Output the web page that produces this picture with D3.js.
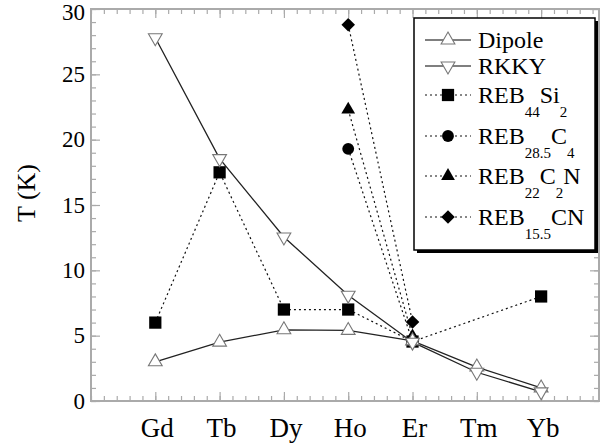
<!DOCTYPE html>
<html>
<head>
<meta charset="utf-8">
<script src="https://cdn.jsdelivr.net/npm/d3@7"></script>
<style>
  body { margin: 0; background: #fff; }
  svg text { font-family: "Liberation Serif", "DejaVu Serif", serif; fill: #000; }
</style>
</head>
<body>
<svg id="chart" width="600" height="448"></svg>
<script>
// categories on the x axis (rare earths)
var elements = ["Gd", "Tb", "Dy", "Ho", "Er", "Tm", "Yb"]
var yTicks = [0, 5, 10, 15, 20, 25, 30]

// ordering temperatures (null = no point)
var dipole = [3.0, 4.5, 5.45, 5.4, 4.6, 2.6, 1.0]
var rkky = [27.8, 18.55, 12.55, 8.1, 4.5, 2.2, 0.7]
var reb44si2 = [6.0, 17.5, 7.0, 7.0, 4.55, null, 8.0]
var reb285c4 = [null, null, null, 19.3, 4.55, null, null]
var reb22c2n = [null, null, null, 22.3, 4.95, null, null]
var reb155cn = [null, null, null, 28.8, 6.05, null, null]

var series = [
  { name: [["REB", 0], ["44", 1], ["Si", 0], ["2", 1]], values: reb44si2, sym: "square", solid: false },
  { name: [["REB", 0], ["28.5", 1], ["C", 0], ["4", 1]], values: reb285c4, sym: "circle", solid: false },
  { name: [["REB", 0], ["22", 1], ["C", 0], ["2", 1], ["N", 0]], values: reb22c2n, sym: "triangle", solid: false },
  { name: [["REB", 0], ["15.5", 1], ["CN", 0]], values: reb155cn, sym: "diamond", solid: false },
  { name: [["Dipole", 0]], values: dipole, sym: "up", solid: true },
  { name: [["RKKY", 0]], values: rkky, sym: "down", solid: true }
]

var svg = d3.select("#chart")
var mLeft = 91, mRight = 599, mTop = 9, mBottom = 401

var x = d3.scaleLinear().domain([0, 7.9]).range([mLeft, mRight])
var y = d3.scaleLinear().domain([0, 30]).range([mBottom, mTop])

function symPath(s) {
  if (s == "square") return d3.symbol(d3.symbolSquare, 150)()
  if (s == "circle") return d3.symbol(d3.symbolCircle, 110)()
  if (s == "diamond") return d3.symbol(d3.symbolSquare, 92)()
  return d3.symbol(d3.symbolTriangle, 82)()
}
function symRot(s) {
  if (s == "diamond") return 45
  if (s == "down") return 180
  return 0
}
function drawSymbol(g, s, cx, cy) {
  var open = (s == "up" || s == "down")
  g.append("path")
    .attr("d", symPath(s))
    .attr("transform", "translate(" + cx + "," + cy + ") rotate(" + symRot(s) + ")")
    .attr("fill", open ? "#fff" : "#000")
    .attr("stroke", open ? "#777" : "none")
    .attr("stroke-width", 1.1)
}

// frame + ticks
var axisColor = "#aaa"
svg.append("rect")
  .attr("x", mLeft).attr("y", mTop)
  .attr("width", mRight - mLeft).attr("height", mBottom - mTop)
  .attr("fill", "none").attr("stroke", axisColor).attr("stroke-width", 2)

var minX = d3.range(0, 7.9, 0.2)
var minY = d3.range(0, 31, 1)
svg.append("g").attr("transform", "translate(0," + mBottom + ")").call(d3.axisBottom(x).tickValues(minX).tickSize(-5).tickFormat(""))
svg.append("g").attr("transform", "translate(0," + mTop + ")").call(d3.axisTop(x).tickValues(minX).tickSize(-5).tickFormat(""))
svg.append("g").attr("transform", "translate(" + mLeft + ",0)").call(d3.axisLeft(y).tickValues(minY).tickSize(-5).tickFormat(""))
svg.append("g").attr("transform", "translate(" + mRight + ",0)").call(d3.axisRight(y).tickValues(minY).tickSize(-5).tickFormat(""))

// major ticks
var majX = d3.range(1, 8)
svg.append("g").attr("transform", "translate(0," + mBottom + ")").call(d3.axisBottom(x).tickValues(majX).tickSize(-9).tickFormat(""))
svg.append("g").attr("transform", "translate(0," + mTop + ")").call(d3.axisTop(x).tickValues(majX).tickSize(-9).tickFormat(""))
svg.append("g").attr("transform", "translate(" + mLeft + ",0)").call(d3.axisLeft(y).tickValues(yTicks).tickSize(-9).tickFormat(""))
svg.append("g").attr("transform", "translate(" + mRight + ",0)").call(d3.axisRight(y).tickValues(yTicks).tickSize(-9).tickFormat(""))

svg.selectAll(".domain").remove()
svg.selectAll(".tick line").attr("stroke", axisColor).attr("stroke-width", 1.2)

// tick labels
svg.append("g").selectAll("text").data(yTicks).join("text")
  .attr("x", mLeft - 6).attr("y", function(d) { return Math.max(y(d) + 7.5, 20) })
  .attr("text-anchor", "end").attr("font-size", 23)
  .text(function(d) { return d })

svg.append("g").selectAll("text").data(elements).join("text")
  .attr("x", function(d, i) { return x(i + 1) + 2 }).attr("y", 437)
  .attr("text-anchor", "middle").attr("font-size", 27)
  .text(function(d) { return d })

svg.append("text")
  .attr("transform", "translate(35,193) rotate(-90)")
  .attr("text-anchor", "middle").attr("font-size", 26)
  .text("T (K)")

// lines
series.forEach(function(s) {
  var pts = s.values.map(function(v, i) { return { i: i + 1, v: v } }).filter(function(d) { return d.v != null })
  var line = d3.line().x(function(d) { return x(d.i) }).y(function(d) { return y(d.v) })
  svg.append("path")
    .attr("d", line(pts))
    .attr("fill", "none")
    .attr("stroke", s.solid ? "#222" : "#111")
    .attr("stroke-width", s.solid ? 1.3 : 1.2)
    .attr("stroke-dasharray", s.solid ? null : "2,3")
})

// markers
series.forEach(function(s) {
  var g = svg.append("g")
  s.values.forEach(function(v, i) {
    if (v == null) return
    drawSymbol(g, s.sym, x(i + 1), y(v))
  })
})

// legend
var lg = svg.append("g")
lg.append("rect").attr("x", 417).attr("y", 21).attr("width", 181).attr("height", 232).attr("fill", "#000")
lg.append("rect").attr("x", 414).attr("y", 18).attr("width", 181).attr("height", 232)
  .attr("fill", "#fff").attr("stroke", "#000").attr("stroke-width", 1.5)

var legendOrder = [4, 5, 0, 1, 2, 3]
var legendY = [40, 66, 95, 136, 176, 217]
legendOrder.forEach(function(k, r) {
  var s = series[k], ly = legendY[r]
  lg.append("line").attr("x1", 425).attr("x2", 471).attr("y1", ly).attr("y2", ly)
    .attr("stroke", s.solid ? "#555" : "#111").attr("stroke-width", s.solid ? 1.3 : 1.1)
    .attr("stroke-dasharray", s.solid ? null : "2,3")
  drawSymbol(lg, s.sym, 448, ly)
  var t = lg.append("text").attr("x", 478).attr("y", ly + 8).attr("font-size", 24)
  var prevSub = false
  s.name.forEach(function(p) {
    var sub = p[1] == 1
    var dy = 0
    if (sub && !prevSub) dy = 14
    if (!sub && prevSub) dy = -14
    t.append("tspan").attr("dy", dy).attr("font-size", sub ? 15 : 24).text(p[0])
    prevSub = sub
  })
})
</script>
</body>
</html>
